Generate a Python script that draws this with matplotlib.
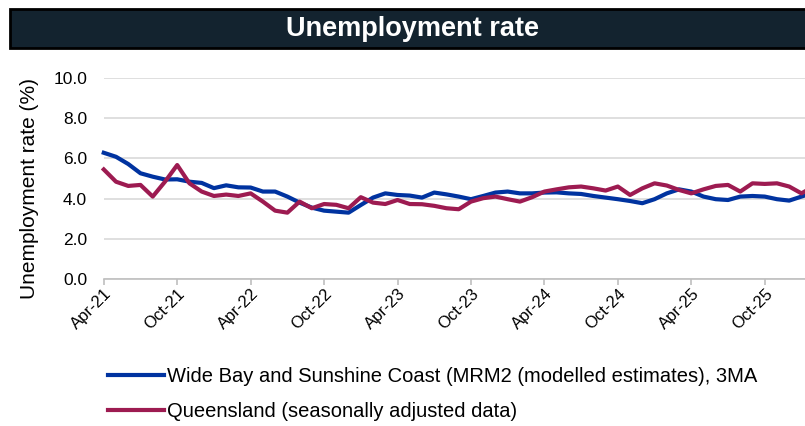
import matplotlib.pyplot as plt
from matplotlib.patches import Rectangle
from matplotlib.transforms import ScaledTranslation
import pandas as pd

# Monthly unemployment rate (%), Apr-21 onwards
wide_bay = [6.28, 6.08, 5.72, 5.26, 5.09, 4.95, 4.96, 4.84, 4.78, 4.52, 4.66, 4.56,
            4.55, 4.35, 4.35, 4.10, 3.80, 3.55, 3.40, 3.35, 3.30, 3.68, 4.05, 4.26,
            4.18, 4.15, 4.05, 4.30, 4.21, 4.10, 3.97, 4.13, 4.30, 4.35, 4.26, 4.26,
            4.30, 4.31, 4.26, 4.23, 4.13, 4.05, 3.97, 3.88, 3.77, 3.97, 4.26, 4.46,
            4.35, 4.10, 3.97, 3.93, 4.10, 4.13, 4.10, 3.97, 3.90, 4.10, 4.30]
queensland = [5.45, 4.84, 4.63, 4.68, 4.10, 4.84, 5.67, 4.76, 4.35, 4.13, 4.20, 4.13,
              4.26, 3.85, 3.40, 3.30, 3.85, 3.52, 3.73, 3.69, 3.52, 4.07, 3.80, 3.73,
              3.93, 3.73, 3.72, 3.64, 3.52, 3.47, 3.85, 4.02, 4.10, 3.97, 3.85, 4.07,
              4.35, 4.46, 4.56, 4.60, 4.51, 4.40, 4.60, 4.18, 4.51, 4.76, 4.65, 4.43,
              4.26, 4.46, 4.63, 4.68, 4.35, 4.76, 4.73, 4.76, 4.60, 4.26, 4.60]

wide_bay_label = "Wide Bay and Sunshine Coast (MRM2 (modelled estimates), 3MA"
queensland_label = "Queensland (seasonally adjusted data)"

months = pd.date_range("2021-04-01", "2026-04-01", freq="MS")
tick_pos = list(range(0, len(months), 6))
tick_labels = [months[i].strftime("%b-%y") for i in tick_pos]

plt.rcParams["font.family"] = ["Liberation Sans", "DejaVu Sans"]

fig = plt.figure(figsize=(8.05, 4.26), dpi=100)

# -----------------------------
# Title banner
# -----------------------------
fig.patches.append(Rectangle((0.0124, 0.887), 1.0, 0.091, transform=fig.transFigure,
                             facecolor="#13232f", edgecolor="black", linewidth=2))
fig.text(0.513, 0.932, "Unemployment rate", color="white", fontsize=19.5,
         fontweight="bold", ha="center", va="center")

# -----------------------------
# Plot
# -----------------------------
ax = fig.add_axes([0.1289, 0.3451, 0.9123, 0.4718])
x = range(len(wide_bay))
ax.plot(x, wide_bay, color="#0033a0", lw=3, label=wide_bay_label, clip_on=False)
ax.plot(x, queensland, color="#9d1b51", lw=3, label=queensland_label, clip_on=False)

ax.set_xlim(0, len(months) - 1)
ax.set_ylim(0, 10)
ax.set_yticks([0, 2, 4, 6, 8, 10])
ax.set_yticklabels([f"{v:.1f}" for v in [0, 2, 4, 6, 8, 10]])
ax.set_xticks(tick_pos)
ax.set_xticklabels(tick_labels, rotation=45, ha="right", va="center",
                   rotation_mode="anchor")

ax.grid(axis="y", color="#d9d9d9", lw=1.2)
ax.set_axisbelow(True)
for s in ["left", "right", "top"]:
    ax.spines[s].set_visible(False)
ax.spines["bottom"].set_color("#bfbfbf")
ax.spines["bottom"].set_linewidth(1.2)

ax.tick_params(axis="y", length=0, pad=12, labelsize=12.5, labelcolor="black")
ax.tick_params(axis="x", length=4, width=1.2, color="#bfbfbf", pad=4,
               labelsize=12, labelcolor="black")

# nudge the slanted month labels a little to the right of their ticks
shift = ScaledTranslation(4 / 72, -1 / 72, fig.dpi_scale_trans)
for lab in ax.get_xticklabels():
    lab.set_clip_on(False)
    lab.set_transform(lab.get_transform() + shift)

ax.set_ylabel("Unemployment rate (%)", fontsize=15, color="black")
ax.yaxis.set_label_coords(-0.088, 0.448)

fig.legend(loc="upper left", bbox_to_anchor=(0.134, 0.139), frameon=False,
           fontsize=14.5, handlelength=2.8, handletextpad=0.15, labelspacing=0.8,
           borderpad=0, borderaxespad=0)

fig.savefig("out.png", dpi=100)
